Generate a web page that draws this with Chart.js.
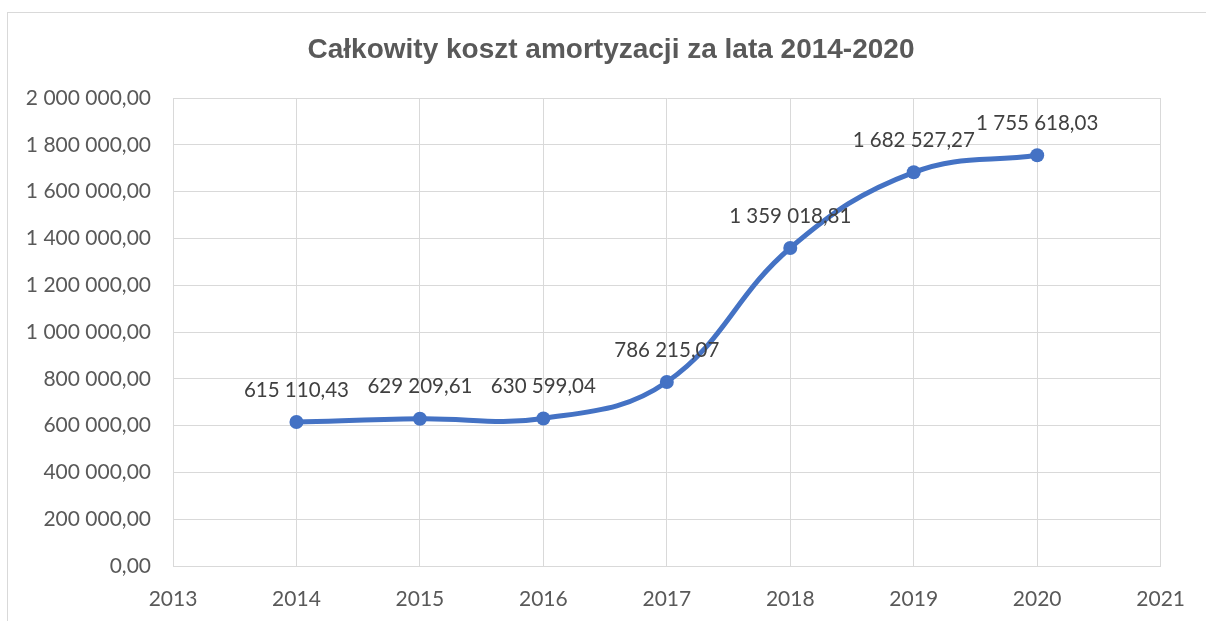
<!DOCTYPE html>
<html>
<head>
<meta charset="utf-8">
<script src="https://cdn.jsdelivr.net/npm/chart.js@4"></script>
<style>
  html, body { margin: 0; padding: 0; background: #fff; }
  #wrap { position: relative; width: 1206px; height: 621px; overflow: hidden; }
  #frame { position: absolute; left: 7px; top: 12px; width: 1400px; height: 800px; border: 1px solid #d9d9d9; }
  canvas { position: absolute; left: 0; top: 0; }
</style>
</head>
<body>
<div id="wrap">
  <div id="frame"></div>
  <canvas id="amort-chart" width="1206" height="621"></canvas>
</div>
<script>
const years = [2014, 2015, 2016, 2017, 2018, 2019, 2020];
const costs = [615110.43, 629209.61, 630599.04, 786215.07, 1359018.81, 1682527.27, 1755618.03];
const chartTitle = "Całkowity koszt amortyzacji za lata 2014-2020";
const xMin = 2013;
const xMax = 2021;
const yMax = 2000000;
const yStep = 200000;

function fmtPl(v) {
  const parts = Math.abs(v).toFixed(2).split(".");
  const int = parts[0].replace(/\B(?=(\d{3})+(?!\d))/g, "\u00a0");
  return (v < 0 ? "-" : "") + int + "," + parts[1];
}

// title sits centred on the (cropped) chart frame, not on the canvas
const frameTitle = {
  id: "frameTitle",
  afterDraw(chart) {
    const { ctx } = chart;
    ctx.save();
    ctx.font = "bold 28px 'Liberation Sans'";
    ctx.fillStyle = "#595959";
    ctx.textAlign = "center";
    ctx.textBaseline = "middle";
    ctx.fillText(chartTitle, 611, 50);
    ctx.restore();
  },
};

const valueLabels = {
  id: "valueLabels",
  afterDatasetsDraw(chart) {
    const { ctx } = chart;
    const meta = chart.getDatasetMeta(0);
    ctx.save();
    ctx.font = "20.5px Lato";
    ctx.fillStyle = "#404040";
    ctx.textAlign = "center";
    ctx.textBaseline = "middle";
    meta.data.forEach((pt, i) => {
      ctx.fillText(fmtPl(costs[i]), pt.x, pt.y - 32);
    });
    ctx.restore();
  },
};

const ctx = document.getElementById("amort-chart").getContext("2d");

new Chart(ctx, {
  type: "line",
  data: {
    datasets: [
      {
        label: "Koszt amortyzacji",
        data: years.map((y, i) => ({ x: y, y: costs[i] })),
        borderColor: "#4472c4",
        backgroundColor: "#4472c4",
        borderWidth: 5,
        pointRadius: 7,
        pointHoverRadius: 7,
        pointBorderWidth: 0,
        tension: 0.4,
        fill: false,
      },
    ],
  },
  options: {
    responsive: false,
    animation: false,
    layout: { padding: { left: 0, right: 43, top: 98, bottom: 0 } },
    plugins: {
      legend: { display: false },
      tooltip: { enabled: false },
      title: { display: false },
    },
    scales: {
      x: {
        type: "linear",
        min: xMin,
        max: xMax,
        afterFit: (s) => { s.height = 55; },
        ticks: {
          stepSize: 1,
          color: "#595959",
          font: { family: "Lato", size: 21 },
          padding: 21,
          callback: (v) => String(v),
        },
        grid: { color: "#d9d9d9", drawTicks: false },
        border: { color: "#d9d9d9" },
      },
      y: {
        min: 0,
        max: yMax,
        afterFit: (s) => { s.width = 173; },
        ticks: {
          stepSize: yStep,
          color: "#595959",
          font: { family: "Lato", size: 21 },
          padding: 22,
          callback: (v) => fmtPl(v),
        },
        grid: { color: "#d9d9d9", drawTicks: false },
        border: { color: "#d9d9d9" },
      },
    },
  },
  plugins: [valueLabels, frameTitle],
});
</script>
</body>
</html>
